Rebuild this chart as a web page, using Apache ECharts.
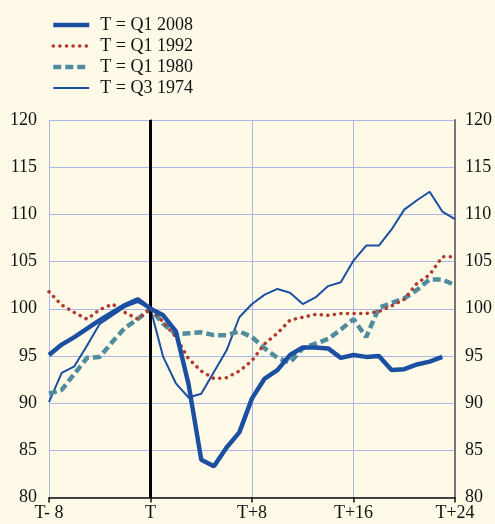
<!DOCTYPE html>
<html>
<head>
<meta charset="utf-8">
<script src="https://cdn.jsdelivr.net/npm/echarts@6/dist/echarts.min.js"></script>
<style>
  html, body { margin: 0; padding: 0; background: #fffae8; }
  #chart { width: 495px; height: 524px; }
</style>
</head>
<body>
<div id="chart"></div>
<script>
// quarters relative to T
var quarters = [-8, -7, -6, -5, -4, -3, -2, -1, 0, 1, 2, 3, 4, 5, 6, 7, 8,
    9, 10, 11, 12, 13, 14, 15, 16, 17, 18, 19, 20, 21, 22, 23, 24];
var tickLabels = {'-8': 'T- 8', '0': 'T', '8': 'T+8', '16': 'T+16', '24': 'T+24'};

var q1_2008 = [95.1, 96.2, 97.0, 97.9, 98.8, 99.6, 100.4, 101.0, 100, 99.3, 97.6, 92.0, 84.0, 83.3,
    85.3, 86.9, 90.5, 92.6, 93.5, 95.1, 95.9, 95.9, 95.8, 94.8, 95.1, 94.9, 95.0, 93.5, 93.6,
    94.1, 94.4, 94.9, null];
var q1_1992 = [101.8, 100.4, 99.6, 98.9, 99.9, 100.5, 99.6, 98.9, 100, 98.6, 97.0, 94.7, 93.4, 92.6,
    92.7, 93.4, 94.5, 96.3, 97.4, 98.8, 99.1, 99.4, 99.3, 99.5, 99.5, 99.5, 99.7, 100.3, 101.0,
    102.7, 103.6, 105.5, 105.5];
var q1_1980 = [91.0, 91.4, 93.1, 94.8, 94.9, 96.5, 98.0, 98.9, 100, 98.4, 97.3, 97.4, 97.5, 97.2,
    97.2, 97.6, 97.0, 95.8, 94.8, 94.3, 95.8, 96.3, 96.8, 97.8, 98.9, 97.0, 100.1, 100.6, 101.1,
    102.0, 103.1, 103.1, 102.5];
var q3_1974 = [90.1, 93.2, 93.9, 96.1, 98.4, 99.3, 100.2, 100.7, 100, 94.9, 92.1, 90.6, 91.0, 93.3,
    95.6, 99.1, 100.5, 101.5, 102.1, 101.7, 100.5, 101.2, 102.4, 102.8, 105.1, 106.7, 106.7,
    108.4, 110.5, 111.5, 112.4, 110.3, 109.5];

function pairs(vals) {
    return quarters.map(function(q, i) { return [q, vals[i]]; });
}

var font = 'Liberation Serif';
var gridColor = '#a9b6e6';
var blue = '#1a4fa1';
var red = '#b3392c';
var teal = '#4f8c9e';

var styles = {
    'T = Q1 2008': { color: blue, width: 4.5, type: 'solid' },
    'T = Q1 1992': { color: red, width: 3.5, type: [0.1, 6.5], cap: 'round' },
    'T = Q1 1980': { color: teal, width: 4.5, type: [8, 4] },
    'T = Q3 1974': { color: blue, width: 2, type: 'solid' }
};

var chart = echarts.init(document.getElementById('chart'));

var yAxisBase = {
    type: 'value',
    min: 80,
    max: 120,
    interval: 5,
    axisTick: { show: false },
    axisLabel: { fontFamily: font, fontSize: 18, color: '#111' },
    splitLine: { lineStyle: { color: gridColor, width: 1 } }
};

var legendNames = ['T = Q1 2008', 'T = Q1 1992', 'T = Q1 1980', 'T = Q3 1974'];

var option = {
    backgroundColor: '#fffae8',
    animation: false,
    grid: { left: 49, right: 39, top: 120, bottom: 26.5 },
    legend: {
        orient: 'vertical',
        left: 46,
        top: 11,
        itemWidth: 36,
        itemHeight: 14,
        itemGap: 3,
        itemStyle: { opacity: 0 },
        textStyle: { fontFamily: font, fontSize: 18, color: '#111', padding: [0, 0, 0, 6] },
        data: legendNames.map(function(n) {
            return { name: n, itemStyle: { opacity: 0 }, lineStyle: styles[n] };
        })
    },
    xAxis: {
        type: 'value',
        min: -8,
        max: 24,
        interval: 8,
        axisLine: { onZero: false, lineStyle: { color: '#111', width: 1.5 } },
        axisTick: { show: true, length: 5, lineStyle: { color: '#111', width: 1.5 } },
        axisLabel: {
            fontFamily: font, fontSize: 18, color: '#111', margin: 7,
            formatter: function(v) { return tickLabels[String(v)] || ''; }
        },
        splitLine: { show: true, lineStyle: { color: gridColor, width: 1 } }
    },
    yAxis: [
        Object.assign({}, yAxisBase, {
            position: 'left',
            axisLine: { show: true, lineStyle: { color: '#111', width: 1.5 } },
            axisLabel: Object.assign({}, yAxisBase.axisLabel, { margin: 12 })
        }),
        Object.assign({}, yAxisBase, {
            position: 'right',
            axisLine: { show: true, lineStyle: { color: '#777', width: 2 } },
            axisLabel: Object.assign({}, yAxisBase.axisLabel, { margin: 10 }),
            splitLine: { show: false }
        })
    ],
    series: [
        {
            name: 'T = Q3 1974',
            type: 'line',
            data: pairs(q3_1974),
            symbol: 'none',
            z: 3,
            lineStyle: styles['T = Q3 1974'],
            itemStyle: { color: blue },
            markLine: {
                silent: true,
                symbol: 'none',
                label: { show: false },
                lineStyle: { color: '#000', width: 3, type: 'solid' },
                data: [{ xAxis: 0 }]
            }
        },
        {
            name: 'T = Q1 1980',
            type: 'line',
            data: pairs(q1_1980),
            symbol: 'none',
            z: 4,
            lineStyle: styles['T = Q1 1980'],
            itemStyle: { color: teal }
        },
        {
            name: 'T = Q1 1992',
            type: 'line',
            data: pairs(q1_1992),
            symbol: 'none',
            z: 5,
            lineStyle: styles['T = Q1 1992'],
            itemStyle: { color: red }
        },
        {
            name: 'T = Q1 2008',
            type: 'line',
            data: pairs(q1_2008),
            symbol: 'none',
            z: 6,
            lineStyle: styles['T = Q1 2008'],
            itemStyle: { color: blue }
        }
    ]
};

chart.setOption(option);
</script>
</body>
</html>
